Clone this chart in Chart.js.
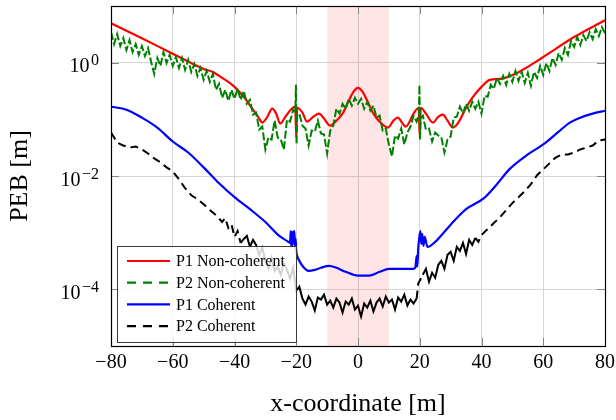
<!DOCTYPE html>
<html>
<head>
<meta charset="utf-8">
<title>PEB vs x-coordinate</title>
<script src="https://cdn.jsdelivr.net/npm/chart.js@4.4.0/dist/chart.umd.min.js"></script>
<style>
  html, body { margin: 0; padding: 0; background: #fff; }
  #wrap { width: 616px; height: 420px; }
</style>
</head>
<body>
<div id="wrap"><canvas id="pebChart" width="616" height="420"></canvas></div>
<script>
'use strict';

/* --------------------------------------------------------------------------
   DATA (PEB in metres)
   -------------------------------------------------------------------------- */
const yTickValues = [1e-4, 1e-2, 1];
const yTickExps = ['\u22124', '\u22122', '0'];
const shadeFrom = -10;
const shadeTo = 10;

// P1 Non-coherent (red, solid)
const p1NonCohX = [-80, -70, -60, -50, -47, -45, -42, -40, -37, -34, -32, -31, -29.5, -27.8, -26.5, -25.2, -23.5, -21.5,
    -20.3, -20, -19.7, -18, -16.5, -14.5, -12.6, -11, -9, -7, -5, -3, -1.5, 0, 1.5, 3, 5, 7, 9.7, 11.5, 12.8, 15.5, 18,
    19.7, 20, 20.3, 22, 24.3, 26, 27.5, 29, 30.7, 32.5, 35, 37, 40, 42.7, 46, 51.5, 60, 70, 80];
const p1NonCohY = [4.98, 2.69, 1.44, 0.776, 0.687, 0.584, 0.458, 0.374, 0.25, 0.148, 0.103, 0.0875, 0.107, 0.154, 0.126, 0.0841, 0.111, 0.154,
    0.167, 0.0477, 0.160, 0.131, 0.0911, 0.111, 0.126, 0.103, 0.0775, 0.0949, 0.126, 0.212, 0.306, 0.360, 0.306, 0.212, 0.126, 0.0911, 0.0715, 0.0949, 0.107, 0.0745, 0.126,
    0.160, 0.0477, 0.160, 0.126, 0.0875, 0.111, 0.121, 0.0949, 0.0715, 0.0875, 0.160, 0.240, 0.374, 0.497, 0.517, 0.660, 1.26, 2.83, 5.62];

// P2 Non-coherent (green, dashed, noisy)
const p2NonCohX = [-80, -79, -78, -77, -76, -75, -74, -73, -72, -71, -70, -69, -68, -67, -66, -65, -64, -63, -62, -61,
    -60, -59, -58, -57, -56, -55, -54, -53, -52, -51, -50, -49, -48, -47, -46, -45, -44, -43, -42, -41,
    -40, -39, -38, -37, -36, -35, -34, -33, -32, -31, -30, -29, -28, -27, -26, -25, -24, -23, -22, -21,
    -20.3, -20.1, -19.9, -19.7,
    -19, -18, -17, -16, -15, -14, -13, -12, -11, -10, -9, -8, -7, -6, -5, -4, -3, -2, -1, 0,
    1, 2, 3, 4, 5, 6, 7, 8, 9, 10, 11, 12, 13, 14, 15, 16, 17, 18, 19,
    19.7, 19.9, 20.1, 20.3,
    21, 22, 23, 24, 25, 26, 27, 28, 29, 30, 31, 32, 33, 34, 35, 36, 37, 38, 39, 40,
    41, 42, 43, 44, 45, 46, 47, 48, 49, 50, 51, 52, 53, 54, 55, 56, 57, 58, 59, 60,
    61, 62, 63, 64, 65, 66, 67, 68, 69, 70, 71, 72, 73, 74, 75, 76, 77, 78, 79, 80];
const p2NonCohY = [3.46, 2.13, 3.19, 1.96, 2.71, 1.67, 2.50, 1.54, 2.13, 1.37, 1.96, 1.31, 1.81, 1.03, 0.633, 1.21, 0.875, 1.54, 0.988, 1.37,
    0.875, 1.26, 0.807, 1.21, 0.745, 1.12, 0.687, 0.949, 0.584, 0.807, 0.497, 0.715, 0.458, 0.633, 0.332, 0.423, 0.240, 0.332, 0.212, 0.332,
    0.230, 0.345, 0.221, 0.318, 0.188, 0.221, 0.121, 0.131, 0.066, 0.0745, 0.0294, 0.0477, 0.044, 0.0949, 0.0477, 0.044, 0.0294, 0.0988, 0.0911, 0.148,
    0.136, 0.406, 0.036, 0.121,
    0.126, 0.0775, 0.0687, 0.0345, 0.0633, 0.0608, 0.0949, 0.0561, 0.0539, 0.025, 0.0633, 0.0775, 0.154, 0.126, 0.188, 0.154, 0.230, 0.174, 0.240, 0.188,
    0.230, 0.154, 0.204, 0.142, 0.174, 0.107, 0.116, 0.0633, 0.0687, 0.036, 0.0221, 0.0517, 0.0458, 0.0687, 0.036, 0.0584, 0.0745, 0.116, 0.0911,
    0.121, 0.406, 0.044, 0.107,
    0.116, 0.066, 0.0687, 0.0406, 0.0584, 0.0517, 0.0477, 0.026, 0.044, 0.0497, 0.107, 0.111, 0.167, 0.126, 0.188, 0.142, 0.204, 0.154, 0.204, 0.126,
    0.260, 0.250, 0.406, 0.345, 0.539, 0.423, 0.584, 0.406, 0.633, 0.458, 0.715, 0.477, 0.687, 0.440, 0.660, 0.390, 0.687, 0.539, 0.875, 0.608,
    0.988, 0.715, 1.21, 0.911, 1.48, 1.12, 1.81, 1.37, 2.40, 1.89, 2.83, 2.05, 3.06, 2.40, 3.46, 2.61, 3.90, 2.94, 4.23, 3.32];

// P1 Coherent (blue, solid)
const p1CohX = [-80, -75, -70, -65, -60, -55, -50, -45, -40, -35, -30, -25.5, -23, -22, -21.8, -21.6, -21.4, -21.2, -21, -20.6,
    -20.4, -20.2, -20, -19.6, -19, -18, -16, -14, -12, -9.4, -7, -4, 0, 3.5, 7, 10, 14, 18, 18.6, 19,
    19.2, 19.5, 19.8, 20.2, 20.5, 20.8, 21.2, 21.6, 22.5, 25, 28, 31.7, 35, 40.8, 45, 49, 55, 60, 65, 68.6, 72, 76, 80];
const p1CohY = [0.167, 0.148, 0.107, 0.0715, 0.0406, 0.026, 0.0142, 0.00745, 0.00423, 0.0026, 0.00154, 0.000875, 0.000715, 0.00066, 0.00107, 0.000561, 0.00103, 0.000608, 0.000988, 0.00107,
    0.000517, 0.000775, 0.000477, 0.000374, 0.000318, 0.00026, 0.000212, 0.00022, 0.00024, 0.00026, 0.00024, 0.000204, 0.000174, 0.000174, 0.000204, 0.00023, 0.00023, 0.00023, 0.000249, 0.00039,
    0.00025, 0.000517, 0.000775, 0.00107, 0.000633, 0.00095, 0.000584, 0.000841, 0.000561, 0.000687, 0.00104, 0.00174, 0.0026, 0.00406, 0.00715, 0.0131, 0.024, 0.036, 0.0608, 0.0875, 0.107, 0.126, 0.142];

// P2 Coherent (black, dashed, noisy in the middle)
const p2CohX = [-80, -79, -78, -76, -74, -72, -70, -68, -66, -64, -62, -60, -58, -56, -54, -52, -50, -48, -46, -44, -43, -42, -41,
    -40, -39, -38, -37, -36, -35, -34, -33, -32, -31, -30, -29, -28, -27, -26, -25, -24, -23, -22, -21,
    -20, -19, -18, -17, -16, -15, -14, -13, -12, -11, -10, -9, -8, -7, -6, -5, -4, -3, -2, -1,
    0, 1, 2, 3, 4, 5, 6, 7, 8, 9, 10, 11, 12, 13, 14, 15, 16, 17, 18, 19, 19.5,
    20, 21, 22, 23, 24, 25, 26, 27, 28, 29, 30, 31, 32, 33, 34, 35, 36, 37, 38, 39, 40,
    42, 44, 46, 48, 50, 52, 54, 56, 58, 60, 62, 64, 66, 68, 70, 72, 74, 76, 78, 80];
const p2CohY = [0.0584, 0.0477, 0.039, 0.0345, 0.0318, 0.0332, 0.0294, 0.025, 0.0204, 0.0174, 0.0142, 0.0121, 0.00875, 0.00608, 0.00458, 0.0039, 0.00318, 0.0025, 0.00204, 0.00154, 0.00181, 0.00121, 0.00142,
    0.000841, 0.00107, 0.00066, 0.000775, 0.000875, 0.000561, 0.000745, 0.000608, 0.000406, 0.000539, 0.000318, 0.00023, 0.00036, 0.000212, 0.00025, 0.000181, 0.000294, 0.000221, 0.000154, 0.00024,
    0.0000949, 0.000111, 0.0000687, 0.0000539, 0.0000745, 0.0000608, 0.0000423, 0.0000715, 0.000066, 0.0000807, 0.0000539, 0.0000633, 0.0000477, 0.0000687, 0.0000584, 0.000039, 0.0000608, 0.0000539, 0.0000687, 0.000044,
    0.0000517, 0.0000332, 0.0000561, 0.0000477, 0.0000633, 0.0000406, 0.0000584, 0.0000687, 0.0000497, 0.0000745, 0.0000584, 0.000066, 0.000044, 0.0000715, 0.0000608, 0.0000807, 0.0000517, 0.000066, 0.0000561, 0.0000687, 0.000126,
    0.000142, 0.000181, 0.00023, 0.000136, 0.000196, 0.00016, 0.000271, 0.000318, 0.00023, 0.000406, 0.000458, 0.000318, 0.000561, 0.000477, 0.00066, 0.000423, 0.000745, 0.000608, 0.000807, 0.000687, 0.000911,
    0.00116, 0.00148, 0.00188, 0.0025, 0.00332, 0.00423, 0.00539, 0.00715, 0.0103, 0.0131, 0.0167, 0.0212, 0.024, 0.024, 0.026, 0.0294, 0.0318, 0.0345, 0.0423, 0.044];

// x-ranges where the dense noise of P2 Coherent makes its dashes merge
const p2CohDenseRanges = [[-38, 19], [21, 38]];

/* --------------------------------------------------------------------------
   STYLE
   -------------------------------------------------------------------------- */
const SERIF = '"Liberation Serif", "Times New Roman", "DejaVu Serif", serif';
const GRID = '#d6d6d6';
const TICK = '#858585';
const DASH = [8, 5];

const toPoints = (xs, ys) => xs.map((x, i) => ({ x, y: ys[i] }));
const minusFmt = v => (v < 0 ? '\u2212' + Math.abs(v) : String(v));
const inDense = (a, b) => p2CohDenseRanges.some(([lo, hi]) => a >= lo && b <= hi);

/* --------------------------------------------------------------------------
   PLUGINS
   -------------------------------------------------------------------------- */
// pink band between shadeFrom and shadeTo
const shadePlugin = {
    id: 'shade',
    beforeDatasetsDraw(chart) {
        const { ctx, chartArea: a, scales: { x } } = chart;
        const x0 = x.getPixelForValue(shadeFrom);
        const x1 = x.getPixelForValue(shadeTo);
        ctx.save();
        ctx.fillStyle = 'rgba(255, 0, 0, 0.1)';
        ctx.fillRect(x0, a.top, x1 - x0, a.bottom - a.top);
        ctx.restore();
    },
};

// inner tick marks + full box frame
const framePlugin = {
    id: 'frame',
    afterDatasetsDraw(chart) {
        const { ctx, chartArea: a, scales: { x, y } } = chart;
        const len = 8;
        ctx.save();
        ctx.strokeStyle = TICK;
        ctx.lineWidth = 1;
        ctx.beginPath();
        x.ticks.forEach(t => {
            const px = Math.round(x.getPixelForValue(t.value)) + 0.5;
            ctx.moveTo(px, a.bottom); ctx.lineTo(px, a.bottom - len);
            ctx.moveTo(px, a.top); ctx.lineTo(px, a.top + len);
        });
        y.ticks.forEach(t => {
            const py = Math.round(y.getPixelForValue(t.value)) + 0.5;
            ctx.moveTo(a.left, py); ctx.lineTo(a.left + len, py);
            ctx.moveTo(a.right, py); ctx.lineTo(a.right - len, py);
        });
        ctx.stroke();
        ctx.strokeStyle = '#000';
        ctx.lineWidth = 1.2;
        ctx.strokeRect(Math.round(a.left) + 0.5, Math.round(a.top) + 0.5, Math.round(a.right - a.left), Math.round(a.bottom - a.top));
        ctx.restore();
    },
};

// boxed legend in the lower-left corner of the plot
const legendPlugin = {
    id: 'boxLegend',
    afterDatasetsDraw(chart) {
        const { ctx, chartArea: a } = chart;
        const bw = 179, bh = 96;
        const bx = Math.round(a.left) + 6;
        const by = Math.round(a.bottom) - 4 - bh;
        ctx.save();
        ctx.fillStyle = 'rgba(255, 255, 255, 0.82)';
        ctx.fillRect(bx, by, bw, bh);
        ctx.strokeStyle = '#3a3a3a';
        ctx.lineWidth = 1;
        ctx.strokeRect(bx + 0.5, by + 0.5, bw, bh);
        ctx.font = '16px ' + SERIF;
        ctx.textBaseline = 'middle';
        ctx.textAlign = 'left';
        chart.data.datasets.forEach((ds, i) => {
            const ry = by + 15 + i * 21.7;
            ctx.beginPath();
            ctx.strokeStyle = ds.borderColor;
            ctx.lineWidth = 2.2;
            ctx.setLineDash(ds.borderDash.length ? [9, 7] : []);
            ctx.moveTo(bx + 10, ry);
            ctx.lineTo(bx + 53, ry);
            ctx.stroke();
            ctx.setLineDash([]);
            ctx.fillStyle = '#000';
            ctx.fillText(ds.label, bx + 59, ry + 1);
        });
        ctx.restore();
    },
};

// y tick labels as 10 with a raised exponent
const powLabelPlugin = {
    id: 'powLabels',
    afterDraw(chart) {
        const { ctx, scales: { y } } = chart;
        const right = 99;
        ctx.save();
        ctx.fillStyle = '#000';
        ctx.textBaseline = 'alphabetic';
        yTickValues.forEach((v, i) => {
            const py = y.getPixelForValue(v);
            ctx.font = '16px ' + SERIF;
            const we = ctx.measureText(yTickExps[i]).width;
            ctx.textAlign = 'left';
            ctx.fillText(yTickExps[i], right - we, py + 2.5);
            ctx.font = '20px ' + SERIF;
            ctx.textAlign = 'right';
            ctx.fillText('10', right - we - 1.5, py + 9.5);
        });
        ctx.restore();
    },
};

/* --------------------------------------------------------------------------
   CHART
   -------------------------------------------------------------------------- */
new Chart(document.getElementById('pebChart'), {
    type: 'line',
    data: {
        datasets: [
            { label: 'P1 Non-coherent', data: toPoints(p1NonCohX, p1NonCohY), borderColor: '#ff0000', borderWidth: 2.2, borderDash: [], cubicInterpolationMode: 'monotone', order: 4 },
            { label: 'P2 Non-coherent', data: toPoints(p2NonCohX, p2NonCohY), borderColor: '#008000', borderWidth: 2, borderDash: [8, 2.5], order: 3 },
            { label: 'P1 Coherent', data: toPoints(p1CohX, p1CohY), borderColor: '#0000ff', borderWidth: 2.2, borderDash: [], cubicInterpolationMode: 'monotone', order: 2 },
            {
                label: 'P2 Coherent', data: toPoints(p2CohX, p2CohY), borderColor: '#000000', borderWidth: 2, borderDash: DASH, order: 1,
                segment: { borderDash: c => (inDense(c.p0.parsed.x, c.p1.parsed.x) ? [] : DASH) },
            },
        ],
    },
    options: {
        responsive: false,
        animation: false,
        devicePixelRatio: 1,
        layout: { padding: { top: 6, right: 11, left: 0, bottom: 0 } },
        elements: {
            point: { radius: 0, hitRadius: 0, hoverRadius: 0 },
            line: { tension: 0, fill: false },
        },
        plugins: {
            legend: { display: false },
            tooltip: { enabled: false },
        },
        scales: {
            x: {
                type: 'linear',
                min: -80,
                max: 80,
                ticks: { stepSize: 20, autoSkip: false, maxRotation: 0, padding: 5, color: '#000', font: { family: SERIF, size: 20 }, callback: v => minusFmt(v) },
                grid: { color: GRID, lineWidth: 1, drawTicks: false },
                border: { display: false },
                title: { display: true, text: 'x-coordinate [m]', color: '#000', font: { family: SERIF, size: 26 }, padding: { top: 0, bottom: 0 } },
                afterFit: s => { s.height = 74; s.paddingLeft = 0; s.paddingRight = 0; },
            },
            y: {
                type: 'logarithmic',
                min: 1e-5,
                max: 10,
                afterBuildTicks: s => { s.ticks = yTickValues.map(v => ({ value: v })); },
                ticks: { display: false },
                grid: { color: GRID, lineWidth: 1, drawTicks: false },
                border: { display: false },
                title: { display: true, text: 'PEB [m]', color: '#000', font: { family: SERIF, size: 26 }, padding: { top: 5, bottom: 0 } },
                afterFit: s => { s.width = 111; s.paddingTop = 0; s.paddingBottom = 0; },
            },
        },
    },
    plugins: [shadePlugin, framePlugin, legendPlugin, powLabelPlugin],
});
</script>
</body>
</html>
